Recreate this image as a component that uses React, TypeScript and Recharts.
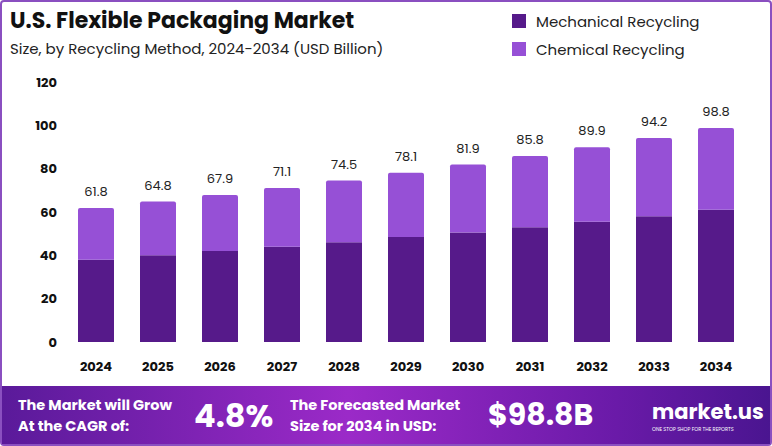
import { BarChart, Bar, XAxis, YAxis, LabelList } from 'recharts';

const years = ['2024', '2025', '2026', '2027', '2028', '2029', '2030', '2031', '2032', '2033', '2034'];
const totals = [61.8, 64.8, 67.9, 71.1, 74.5, 78.1, 81.9, 85.8, 89.9, 94.2, 98.8];
const mechanical = [38, 40, 42, 44, 46, 48.5, 50.5, 53, 55.5, 58, 61];
const yTicks = [0, 20, 40, 60, 80, 100, 120];

const data = years.map((year, i) => ({
  year,
  mechanical: mechanical[i],
  chemical: +(totals[i] - mechanical[i]).toFixed(1),
  total: totals[i],
}));

const MECH = '#561a8a';
const CHEM = '#9650d6';
const font = 'Poppins, "Open Sans", Lato, sans-serif';

export default function App() {
  return (
    <div style={{ position: 'fixed', left: 0, top: 0, width: 772, height: 446, background: '#fff', fontFamily: font, overflow: 'hidden' }}>
      <div style={{ position: 'absolute', inset: 0, border: '2px solid #8a4fc0', borderRadius: 4, boxSizing: 'border-box' }} />
      <div style={{ position: 'absolute', left: 10, top: 4, fontSize: 22, fontWeight: 700, color: '#111' }}>U.S. Flexible Packaging Market</div>
      <div style={{ position: 'absolute', left: 10, top: 37, fontSize: 15, color: '#222' }}>Size, by Recycling Method, 2024-2034 (USD Billion)</div>
      <div style={{ position: 'absolute', left: 512, top: 8, fontSize: 15, color: '#222', lineHeight: '28px' }}>
        <div><span style={{ display: 'inline-block', width: 14, height: 14, background: MECH, marginRight: 10, verticalAlign: -1 }} />Mechanical Recycling</div>
        <div><span style={{ display: 'inline-block', width: 14, height: 14, background: CHEM, marginRight: 10, verticalAlign: -1 }} />Chemical Recycling</div>
      </div>
      <div style={{ position: 'absolute', left: 0, top: 0 }}>
        <BarChart width={772} height={386} data={data} margin={{ top: 82, right: 25, left: 20, bottom: 6 }} barCategoryGap={13}>
          <XAxis dataKey="year" axisLine={false} tickLine={false} height={38} tickMargin={14} tick={{ fill: '#111', fontSize: 13, fontWeight: 700 }} />
          <YAxis domain={[0, 120]} ticks={yTicks} axisLine={false} tickLine={false} width={45} tick={{ fill: '#111', fontSize: 13, fontWeight: 700 }} />
          <Bar dataKey="mechanical" stackId="a" fill={MECH} isAnimationActive={false} />
          <Bar dataKey="chemical" stackId="a" fill={CHEM} radius={[2, 2, 0, 0]} isAnimationActive={false}>
            <LabelList dataKey="total" position="top" offset={12} style={{ fill: '#222', fontSize: 13 }} />
          </Bar>
        </BarChart>
      </div>
      <div style={{ position: 'absolute', left: 2, right: 2, top: 386, bottom: 2, background: 'linear-gradient(90deg, #5a1a9a 0%, #9b2ac8 45%, #6a1aa8 80%, #4a1590 100%)', color: '#fff', fontWeight: 700 }}>
        <div style={{ position: 'absolute', left: 16, top: 9, fontSize: 14.5, lineHeight: '21px' }}>The Market will Grow<br />At the CAGR of:</div>
        <div style={{ position: 'absolute', left: 192, top: 6, fontSize: 32 }}>4.8%</div>
        <div style={{ position: 'absolute', left: 288, top: 9, fontSize: 14.5, lineHeight: '21px' }}>The Forecasted Market<br />Size for 2034 in USD:</div>
        <div style={{ position: 'absolute', left: 486, top: 6, fontSize: 30 }}>$98.8B</div>
        <div style={{ position: 'absolute', left: 650, top: 10, fontSize: 21 }}>market.us</div>
        <div style={{ position: 'absolute', left: 650, top: 40, fontSize: 5, fontWeight: 400 }}>ONE STOP SHOP FOR THE REPORTS</div>
      </div>
    </div>
  );
}
